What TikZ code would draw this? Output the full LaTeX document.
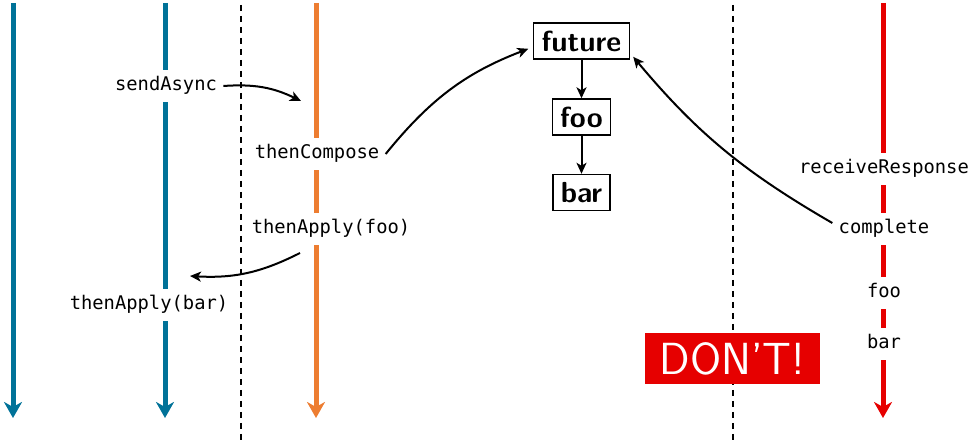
\documentclass[tikz,border=0pt]{standalone}
\usepackage{fontspec}
\usetikzlibrary{arrows.meta}
\newfontfamily\codefont{DejaVu Sans Mono}
\definecolor{threadblue}{RGB}{0,114,152}
\definecolor{threadorange}{RGB}{237,125,49}
\definecolor{threadred}{RGB}{230,0,0}

\begin{document}
\begin{tikzpicture}[x=0.5pt,y=-0.5pt,
    lifeline/.style={line width=2.5pt,-{Stealth[length=8pt,width=9pt,inset=2.5pt]}},
    border/.style={black,line width=0.75pt,dash pattern=on 3pt off 2.5pt},
    call/.style={fill=white,inner xsep=3pt,inner ysep=3.5pt,text height=7pt,text depth=2pt,
        font=\codefont\fontsize{9.4}{11}\selectfont},
    stage/.style={draw,line width=0.7pt,minimum height=18pt,inner xsep=4pt,
        font=\sffamily\bfseries\fontsize{14.5}{16}\selectfont},
    link/.style={line width=1pt,-{Stealth[length=5.5pt,width=5pt,inset=1.5pt]}}]
    \useasboundingbox (0,0) rectangle (976,443);

    % Threads
    \draw[lifeline,threadblue] (13,3) -- (13,418);
    \draw[lifeline,threadblue] (165,3) -- (165,418);
    \draw[lifeline,threadorange] (316,3) -- (316,418);
    \draw[lifeline,threadred] (883,3) -- (883,418);

    % Boundaries
    \draw[border] (241,5) -- (241,443);
    \draw[border] (733,5) -- (733,443);

    % Calls on the threads
    \node[call] (sendAsync) at (166,86) {sendAsync};
    \node[call] (applyBar) at (149,305) {thenApply(bar)};
    \node[call] (thenCompose) at (317,154) {thenCompose};
    \node[call] (applyFoo) at (331,229) {thenApply(foo)};
    \node[call] (receive) at (884,169) {receiveResponse};
    \node[call] (complete) at (884,229) {complete};
    \node[call] (fooCall) at (884,293) {foo};
    \node[call] (barCall) at (884,344) {bar};

    % Future chain
    \node[stage] (future) at (581.5,41) {future};
    \node[stage] (foo) at (581.5,117) {foo};
    \node[stage] (bar) at (581.5,192.5) {bar};

    % Warning
    \node[fill=threadred, text=white, minimum width=87.5pt, minimum height=25.5pt,
        font=\sffamily\fontsize{22.5}{24}\selectfont] (dont) at (732.5,358.5) {DON’T!};

    % Arrows
    \coordinate (orangeIn) at (301,101);
    \coordinate (applyOut) at (300,253);
    \coordinate (blueIn) at (190,276);
    \draw[link] (sendAsync.east) to[bend left=15] (orangeIn);
    \draw[link,shorten >=2.5pt] (thenCompose.east) to[bend left=15] ([yshift=-3pt]future.west);
    \draw[link] (applyOut) to[bend left=15] (blueIn);
    \draw[link,shorten >=2.5pt] ([yshift=3pt]complete.west) to[bend left=10] ([yshift=-6pt]future.east);
    \draw[link] (future) -- (foo);
    \draw[link] (foo) -- (bar);
\end{tikzpicture}
\end{document}
